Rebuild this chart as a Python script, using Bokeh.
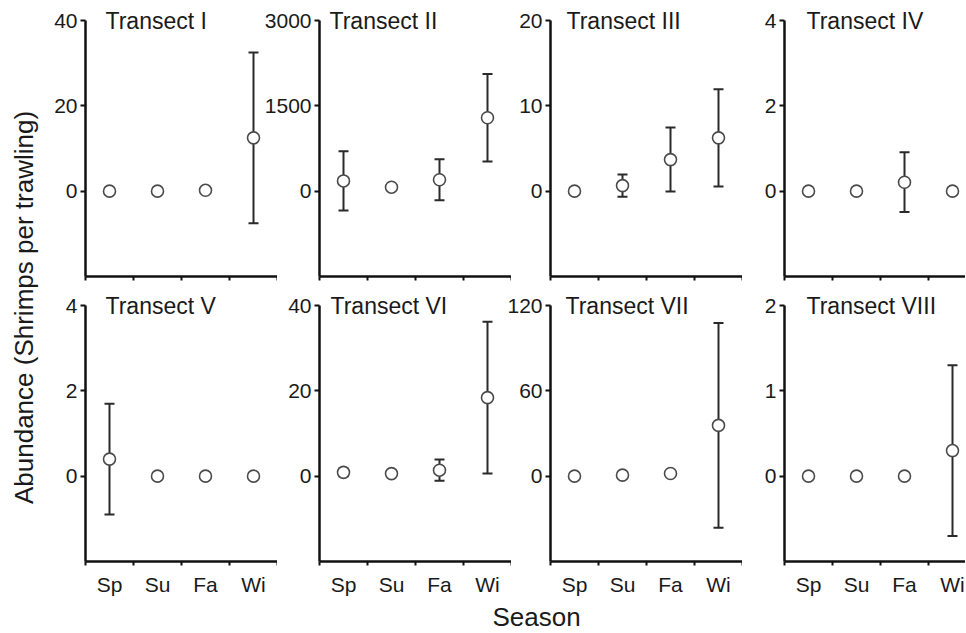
import math
from bokeh.plotting import figure
from bokeh.layouts import row, column
from bokeh.models import ColumnDataSource, Whisker, TeeHead, Label, Range1d, FixedTicker
from bokeh.embed import file_html
from bokeh.resources import INLINE

# ---------------- data ----------------
seasons = ["Sp", "Su", "Fa", "Wi"]
titles = ["Transect I", "Transect II", "Transect III", "Transect IV",
          "Transect V", "Transect VI", "Transect VII", "Transect VIII"]
y_tops = [40, 3000, 20, 4, 4, 40, 120, 2]

mean_I = [0, 0, 0.2, 12.5]
err_I = [0, 0, 0, 20]
mean_II = [180, 70, 200, 1290]
err_II = [520, 40, 360, 770]
mean_III = [0, 0.65, 3.7, 6.25]
err_III = [0, 1.3, 3.75, 5.7]
mean_IV = [0, 0, 0.21, 0]
err_IV = [0, 0, 0.7, 0]
mean_V = [0.4, 0, 0, 0]
err_V = [1.3, 0, 0, 0]
mean_VI = [0.9, 0.6, 1.4, 18.4]
err_VI = [0.9, 0.3, 2.5, 17.8]
mean_VII = [0, 0.7, 1.9, 35.7]
err_VII = [0, 0, 1.2, 72]
mean_VIII = [0, 0, 0, 0.3]
err_VIII = [0, 0, 0, 1.0]

means = [mean_I, mean_II, mean_III, mean_IV, mean_V, mean_VI, mean_VII, mean_VIII]
errs = [err_I, err_II, err_III, err_IV, err_V, err_VI, err_VII, err_VIII]

# ---------------- styling / layout ----------------
FONT = "Liberation Sans"
AX = "#111111"
TXT = "#1a1a1a"
AXIS_H = 256          # pixel height of the drawn y axis
HEAD = 16             # extra frame room above the top tick (for panel titles)
UNIT_PX = 48
col_left_border = [45, 60, 60, 60]
col_frame_w = [192, 192, 192, 181]
col_margin = [0, -18, -21, -18]
title_off = [20, 10, 16, 22, 20, 11, 15, 22]


def make_panel(k):
    r, c = divmod(k, 4)
    top = y_tops[k]
    fw = col_frame_w[c]
    xend = fw / UNIT_PX
    lo = -top / 2
    extra = (top - lo) * HEAD / AXIS_H
    p = figure(frame_width=fw, frame_height=AXIS_H + HEAD,
               x_range=Range1d(0, xend), y_range=Range1d(lo, top + extra),
               output_backend="svg", toolbar_location=None, tools="",
               min_border_left=col_left_border[c], min_border_right=0,
               min_border_top=4 if r == 0 else 0,
               min_border_bottom=13 if r == 0 else 34,
               margin=(0, 0, 0, col_margin[c]))
    p.outline_line_color = None
    p.background_fill_alpha = 0
    p.border_fill_alpha = 0
    p.xgrid.visible = False
    p.ygrid.visible = False

    xs = [i + 0.5 for i in range(len(seasons))]
    m = means[k]
    e = errs[k]

    # x axis
    xa = p.xaxis[0]
    if r == 0:
        xa.ticker = FixedTicker(ticks=[], minor_ticks=list(range(len(seasons) + 1)))
        xa.major_label_standoff = 0
    else:
        xa.ticker = FixedTicker(ticks=xs, minor_ticks=list(range(len(seasons) + 1)))
        xa.major_label_overrides = {x: s for x, s in zip(xs, seasons)}
        xa.major_label_standoff = 7
    xa.major_tick_out = 0
    xa.major_tick_in = 0
    xa.minor_tick_out = 4
    xa.minor_tick_in = 0
    xa.minor_tick_line_width = 2
    xa.minor_tick_line_color = AX
    xa.axis_line_width = 2.5
    xa.axis_line_color = AX
    xa.major_label_text_font = FONT
    xa.major_label_text_font_size = "21px"
    xa.major_label_text_color = TXT

    # y axis
    ya = p.yaxis[0]
    ya.bounds = (lo, top)
    ya.ticker = FixedTicker(ticks=[0, top / 2, top])
    ya.major_tick_out = 5
    ya.major_tick_in = 0
    ya.minor_tick_out = 0
    ya.minor_tick_in = 0
    ya.major_tick_line_width = 2
    ya.major_tick_line_color = AX
    ya.axis_line_width = 2.5
    ya.axis_line_color = AX
    ya.major_label_text_font = FONT
    ya.major_label_text_font_size = "21px"
    ya.major_label_text_color = TXT
    ya.major_label_standoff = 3

    # error bars
    ex = [x for x, ee in zip(xs, e) if ee > 0]
    elo = [mm - ee for mm, ee in zip(m, e) if ee > 0]
    ehi = [mm + ee for mm, ee in zip(m, e) if ee > 0]
    if ex:
        src = ColumnDataSource(dict(x=ex, lo=elo, hi=ehi))
        w = Whisker(source=src, base="x", lower="lo", upper="hi", dimension="height",
                    line_width=2, line_color="#2a2a2a", level="underlay",
                    upper_head=TeeHead(size=10, line_width=2, line_color="#2a2a2a"),
                    lower_head=TeeHead(size=10, line_width=2, line_color="#2a2a2a"))
        p.add_layout(w)

    # points
    p.scatter(x=xs, y=m, marker="circle", size=12, fill_color="white",
              line_color="#4a4a4a", line_width=1.6)

    # panel title
    p.add_layout(Label(x=0, y=top, x_offset=title_off[k], text=titles[k],
                       text_font=FONT, text_font_size="23px", text_color=TXT,
                       text_align="left", text_baseline="middle"))
    return p


panels = [make_panel(k) for k in range(8)]
row1 = row(*panels[:4], spacing=0)
row2 = row(*panels[4:], spacing=0)

# bottom strip with the shared x axis title
SW, SH = 925, 37
season_fig = figure(width=SW, height=SH, x_range=Range1d(0, SW), y_range=Range1d(0, SH),
                    output_backend="svg", toolbar_location=None, tools="",
                    min_border=0, min_border_left=0, min_border_right=0,
                    min_border_top=0, min_border_bottom=0)
season_fig.axis.visible = False
season_fig.grid.visible = False
season_fig.outline_line_color = None
season_fig.add_layout(Label(x=496, y=19, text="Season", text_font=FONT, text_font_size="26px",
                            text_color=TXT, text_align="center", text_baseline="middle"))

# left strip with the shared y axis title
LW, LH = 40, 632
ylab_fig = figure(width=LW, height=LH, x_range=Range1d(0, LW), y_range=Range1d(0, LH),
                  output_backend="svg", toolbar_location=None, tools="",
                  min_border=0, min_border_left=0, min_border_right=0,
                  min_border_top=0, min_border_bottom=0)
ylab_fig.axis.visible = False
ylab_fig.grid.visible = False
ylab_fig.outline_line_color = None
ylab_fig.add_layout(Label(x=23, y=325, angle=math.pi / 2, text="Abundance (Shrimps per trawling)",
                          text_font=FONT, text_font_size="26px", text_color=TXT,
                          text_align="center", text_baseline="middle"))

layout = row(ylab_fig, column(row1, row2, season_fig, spacing=0), spacing=0)

open("out.html", "w").write(file_html(layout, INLINE))
